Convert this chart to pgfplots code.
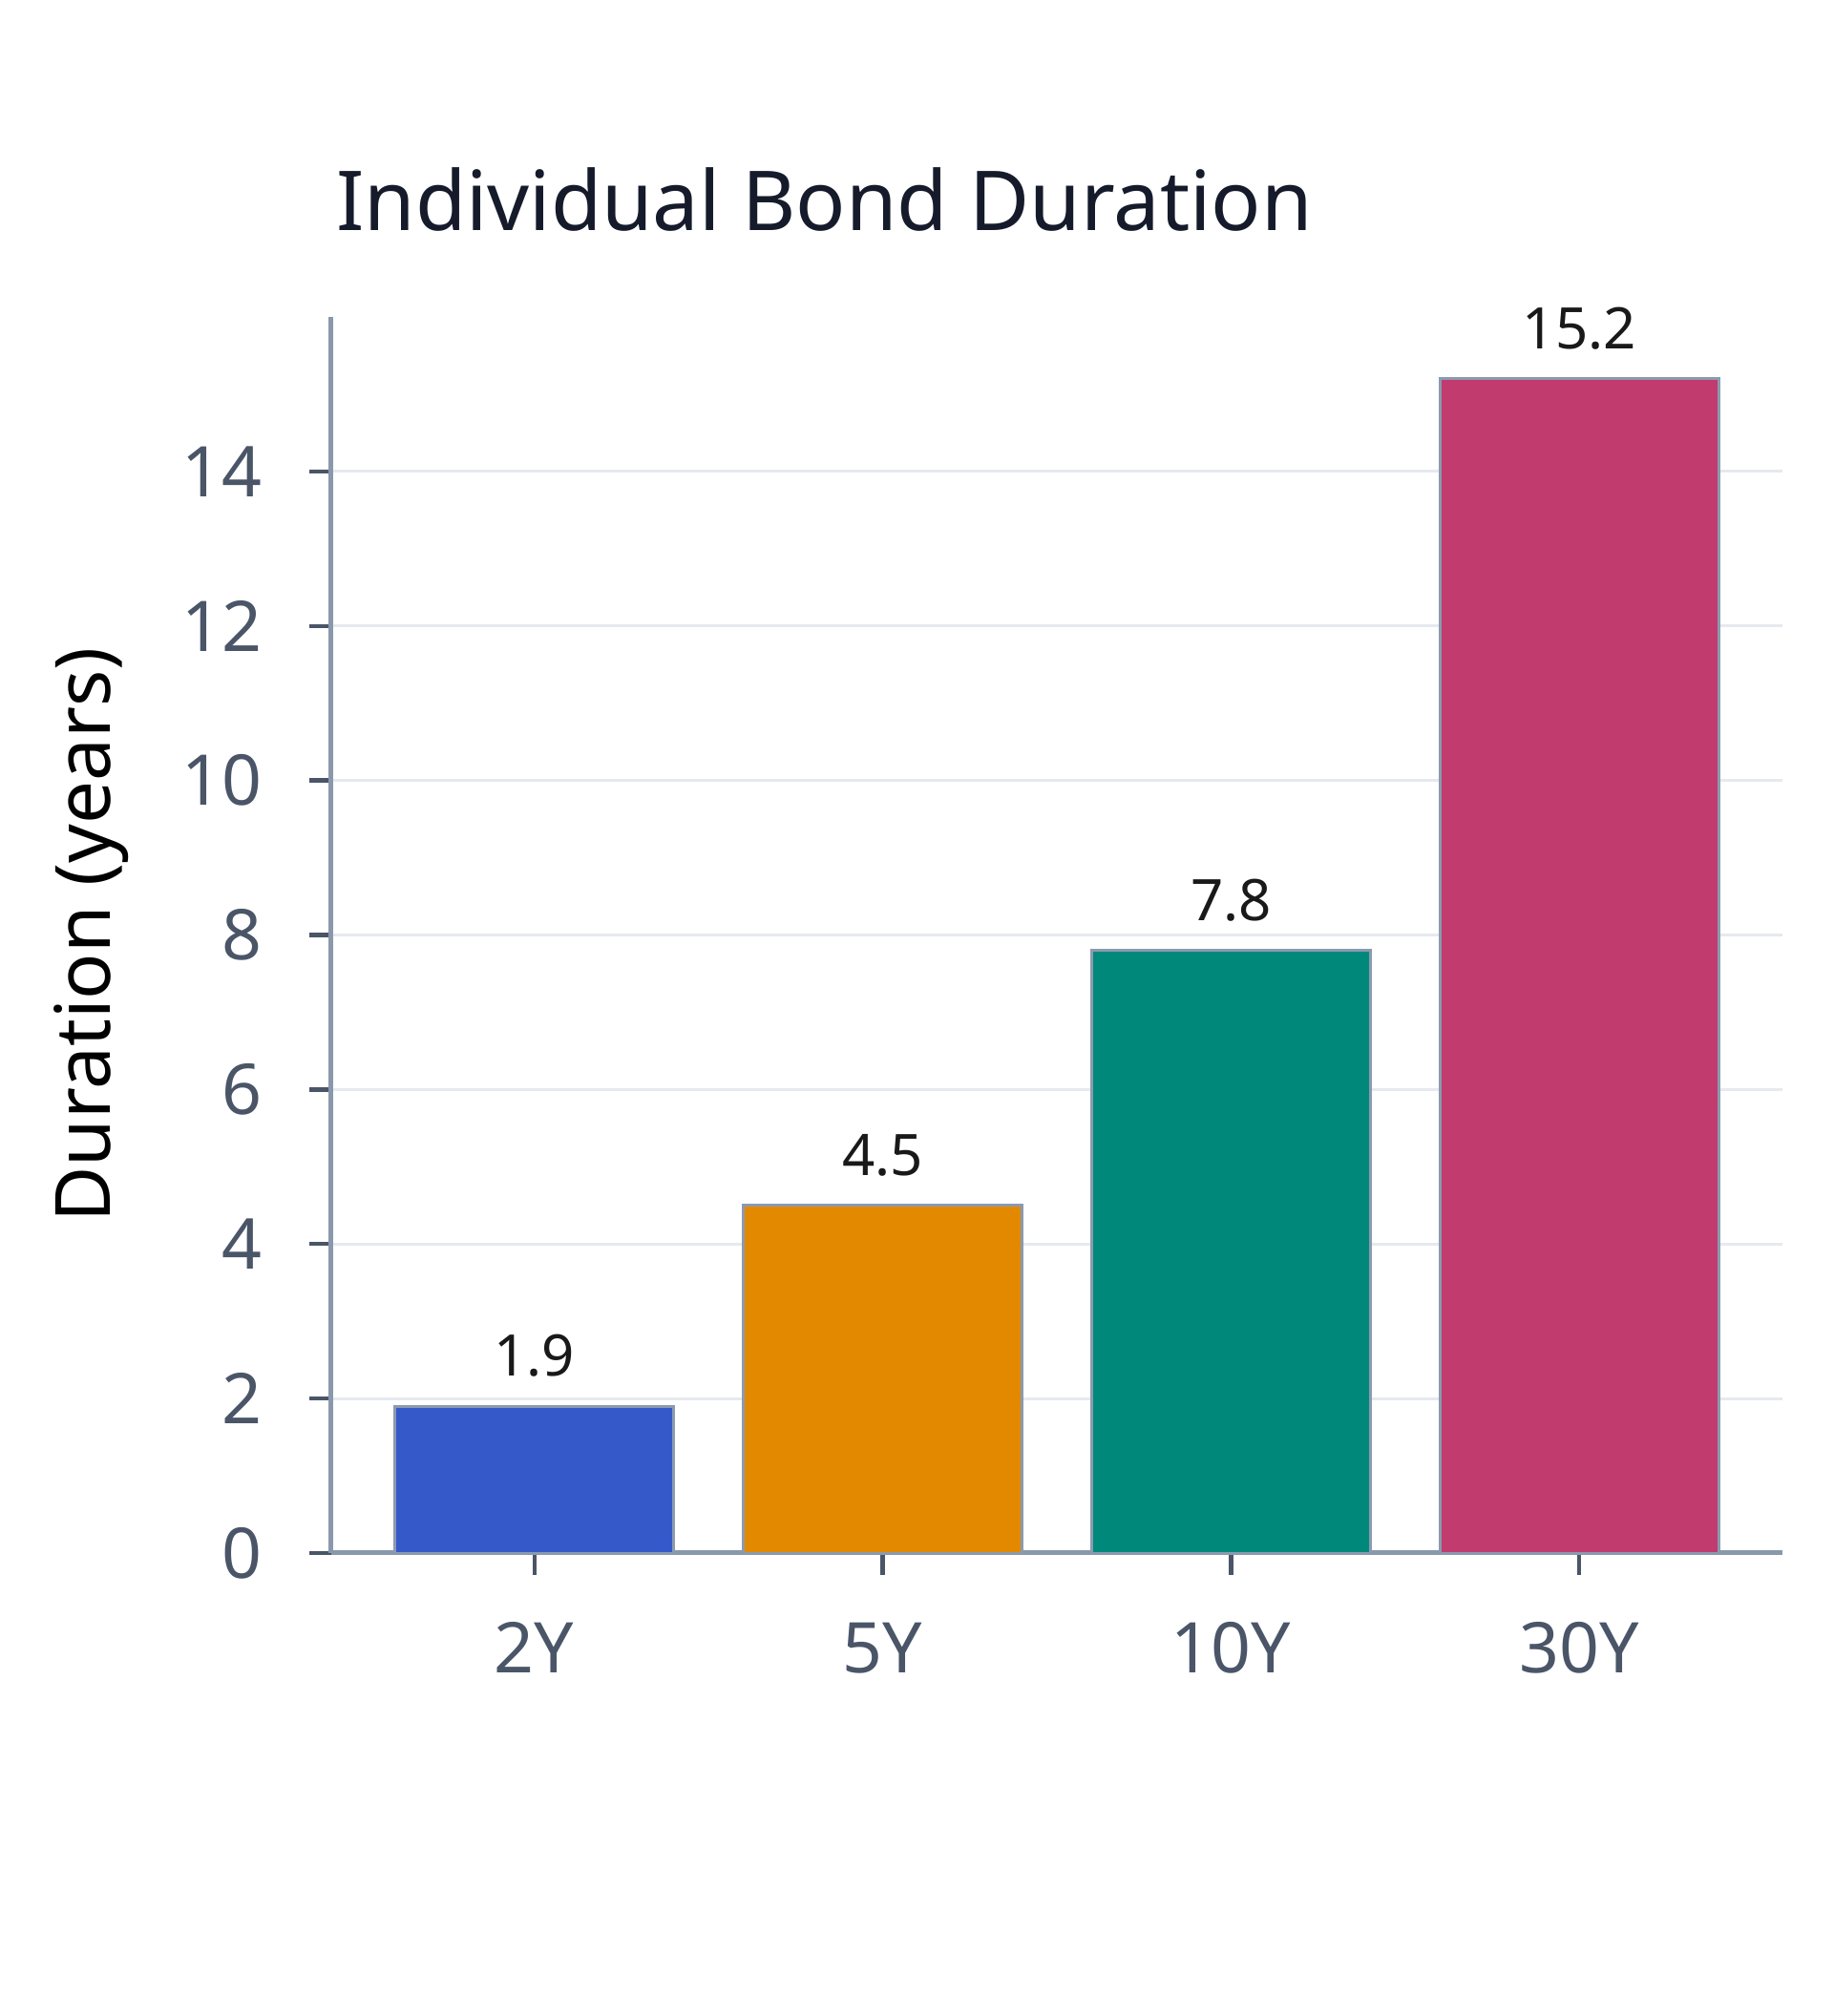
\documentclass[border=0pt]{standalone}
\usepackage{fontspec}
\setmainfont{Noto Sans}
\usepackage{pgfplots}
\pgfplotsset{compat=1.18}
\definecolor{cBlue}{HTML}{3659C9}
\definecolor{cOrange}{HTML}{E38900}
\definecolor{cTeal}{HTML}{00897B}
\definecolor{cPink}{HTML}{C23B6F}
\definecolor{cEdge}{HTML}{8B9AB0}
\definecolor{cAxis}{HTML}{8A98AC}
\definecolor{cTick}{HTML}{4A5568}
\definecolor{cGrid}{HTML}{E6E9EF}
\definecolor{cTitle}{HTML}{161B2B}
\begin{document}
\begin{tikzpicture}
\useasboundingbox (-104.1pt,-145.5pt) rectangle (471.9pt,488.1pt);
\begin{axis}[
  at={(0pt,0pt)}, anchor=south west,
  scale only axis,
  width=456pt, height=388.5pt,
  xmin=-0.583, xmax=3.583,
  ymin=0, ymax=16,
  axis lines*=left,
  axis line style={cAxis, line width=1.5pt},
  xtick={0,1,2,3},
  xticklabels={2Y,5Y,10Y,30Y},
  ytick={0,2,4,6,8,10,12,14},
  tick style={cTick, line width=1.3pt},
  major tick length=6.8pt,
  tick align=outside,
  ymajorgrids,
  grid style={cGrid, line width=0.9pt},
  /pgf/number format/assume math mode=true,
  ticklabel style={font=\fontsize{22}{26}\selectfont, text=cTick},
  xticklabel style={yshift=-11.5pt},
  yticklabel style={xshift=-11.5pt},
  ylabel={Duration (years)},
  ylabel style={font=\fontsize{24}{28}\selectfont, text=black, at={(axis description cs:0,0.5)}, anchor=center, yshift=75.5pt},
  title={Individual Bond Duration},
  title style={font=\fontsize{26}{30}\selectfont, text=cTitle, at={(axis description cs:0,1)}, anchor=base west, yshift=21pt, xshift=-2pt},
  clip=false,
  nodes near coords,
  nodes near coords style={font=\fontsize{18}{22}\selectfont, text=black!90, anchor=south, yshift=5.5pt},
  point meta=explicit symbolic,
]
\addplot[ybar, bar width=0.8, fill=cBlue, draw=cEdge, line width=0.8pt] coordinates {(0,1.9) [1.9]};
\addplot[ybar, bar width=0.8, fill=cOrange, draw=cEdge, line width=0.8pt] coordinates {(1,4.5) [4.5]};
\addplot[ybar, bar width=0.8, fill=cTeal, draw=cEdge, line width=0.8pt] coordinates {(2,7.8) [7.8]};
\addplot[ybar, bar width=0.8, fill=cPink, draw=cEdge, line width=0.8pt] coordinates {(3,15.2) [15.2]};
\end{axis}
\end{tikzpicture}
\end{document}
